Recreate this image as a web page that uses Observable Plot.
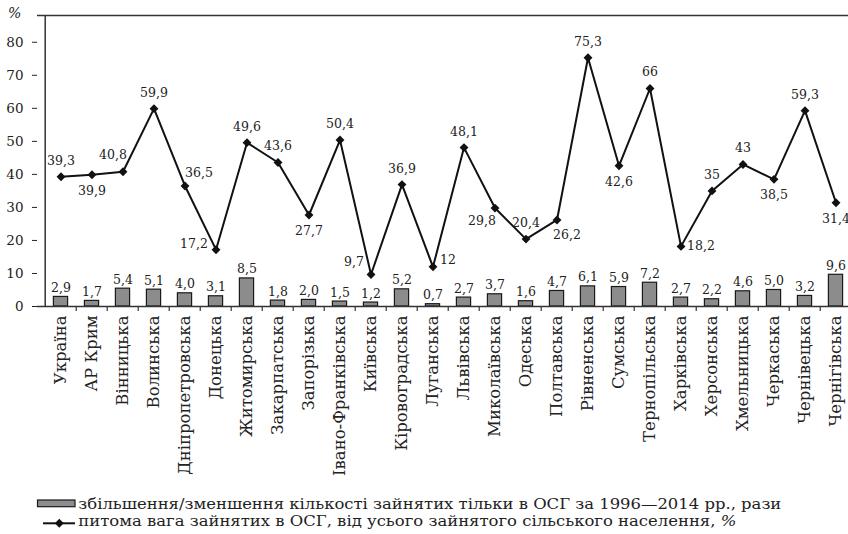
<!DOCTYPE html>
<html>
<head>
<meta charset="utf-8">
<script src="https://cdn.jsdelivr.net/npm/d3@7"></script>
<script src="https://cdn.jsdelivr.net/npm/@observablehq/plot@0.6"></script>
<style>
  html, body { margin: 0; padding: 0; background: #fff; overflow: hidden; width: 848px; height: 534px; }
  #wrap { position: relative; width: 848px; height: 534px; overflow: hidden; font-family: "DejaVu Serif", serif; color: #222; }
  #pct { position: absolute; left: 8px; top: 5px; font-size: 14px; font-style: italic; }
  #chart svg { display: block; max-width: none !important; }
  #legend { position: absolute; left: 0; top: 490px; }
</style>
</head>
<body>
<div id="wrap">
  <div id="chart"></div>
  <div id="pct">%</div>
  <div id="legend"></div>
</div>
<script>
const regions = ["Україна","АР Крим","Вінницька","Волинська","Дніпропетровська","Донецька","Житомирська","Закарпатська","Запорізька","Івано-Франківська","Київська","Кіровоградська","Луганська","Львівська","Миколаївська","Одеська","Полтавська","Рівненська","Сумська","Тернопільська","Харківська","Херсонська","Хмельницька","Черкаська","Чернівецька","Чернігівська"];
const shareValues = [39.3,39.9,40.8,59.9,36.5,17.2,49.6,43.6,27.7,50.4,9.7,36.9,12,48.1,29.8,20.4,26.2,75.3,42.6,66,18.2,35,43,38.5,59.3,31.4];
const growthValues = [2.9,1.7,5.4,5.1,4.0,3.1,8.5,1.8,2.0,1.5,1.2,5.2,0.7,2.7,3.7,1.6,4.7,6.1,5.9,7.2,2.7,2.2,4.6,5.0,3.2,9.6];
const yTicks = [0,10,20,30,40,50,60,70,80];
const legendBarLabel = "збільшення/зменшення кількості зайнятих тільки в ОСГ за 1996—2014 рр., рази";
const legendLineLabel = "питома вага зайнятих в ОСГ, від усього зайнятого сільського населення, ";
const legendLineUnit = "%";

// label placement keys for the line's value labels (layout, not data)
const labelPlacement = ["t","b","tl","t","tr","l","t","t","b","t","lt","t","r","t","bl","t","br","t","b","t","rr","t","t","b","t","b"];
const offsets = {t:[0,-16], b:[0,16], tl:[-10,-17], tr:[14,-13], l:[-22,-6], lt:[-17,-12], r:[15,-7], rr:[20,0], bl:[-13,13], br:[10,15]};

const FONT = "'DejaVu Serif', serif";
const W = 858, H = 490, ML = 37, MR = 0, MT = 15, MB = 184;
const yMax = 88.1;
const step = (W - ML - MR) / regions.length;
const rows = regions.map((region, i) => ({region, share: shareValues[i], growth: growthValues[i], place: labelPlacement[i]}));
const fmt = v => String(v).replace(".", ",");
const fmt1 = v => v.toFixed(1).replace(".", ",");

const shareLabels = Object.entries(offsets).map(([k, [dx, dy]]) =>
  Plot.text(rows.filter(d => d.place === k), {x: "region", y: "share", text: d => fmt(d.share), dx, dy, fontSize: 12.5, fill: "#222"})
);

const chart = Plot.plot({
  width: W, height: H, marginLeft: ML, marginRight: MR, marginTop: MT, marginBottom: MB,
  style: {fontFamily: FONT, fontSize: "13.5px", background: "transparent", color: "#222", overflow: "visible"},
  x: {domain: regions, padding: 0, axis: null},
  y: {domain: [0, yMax], ticks: yTicks, tickSize: 5, tickPadding: 9, label: null},
  marks: [
    Plot.barY(rows, {x: "region", y: "growth", fill: "#8c8c8c", stroke: "#1a1a1a", strokeWidth: 1.2, insetLeft: 8.4, insetRight: 8.4}),
    Plot.ruleY([0], {stroke: "#333", strokeWidth: 1.5}),
    Plot.ruleY([yMax], {stroke: "#333", strokeWidth: 1.5}),
    Plot.ruleX([regions[0]], {dx: -step / 2, y1: 0, y2: yMax, stroke: "#333", strokeWidth: 1.5}),
    Plot.ruleX(regions.slice(1), {dx: -step / 2, y1: 0, y2: -1.5, stroke: "#333", strokeWidth: 1.2}),
    Plot.text(rows, {x: "region", y: "growth", text: d => fmt1(d.growth), dy: -9, fontSize: 12.5, fill: "#222"}),
    Plot.lineY(rows, {x: "region", y: "share", stroke: "#111", strokeWidth: 2}),
    Plot.dot(rows, {x: "region", y: "share", symbol: "diamond2", r: 4, fill: "#111", stroke: "none"}),
    ...shareLabels,
    Plot.text(rows, {x: "region", y: 0, text: "region", rotate: -90, textAnchor: "end", dy: 9, fontSize: 16.5, fill: "#222"})
  ]
});
document.getElementById("chart").appendChild(chart);

// legend
const lg = d3.select("#legend").append("svg").attr("width", 848).attr("height", 44)
  .style("font-family", FONT);
lg.append("rect").attr("x", 37.5).attr("y", 10).attr("width", 37.5).attr("height", 6.7)
  .attr("fill", "#8c8c8c").attr("stroke", "#1a1a1a").attr("stroke-width", 1.2);
lg.append("line").attr("x1", 43).attr("x2", 75).attr("y1", 33.3).attr("y2", 33.3).attr("stroke", "#111").attr("stroke-width", 2);
lg.append("path").attr("d", d3.symbol(d3.symbolDiamond2, 50)()).attr("transform", "translate(59.3,33.3)").attr("fill", "#111");
lg.append("text").attr("x", 78.3).attr("y", 19).attr("font-size", 15).attr("fill", "#222")
  .attr("textLength", 703).attr("lengthAdjust", "spacingAndGlyphs").text(legendBarLabel);
const t2 = lg.append("text").attr("x", 78.3).attr("y", 36).attr("font-size", 15).attr("fill", "#222")
  .attr("textLength", 658).attr("lengthAdjust", "spacingAndGlyphs");
t2.append("tspan").text(legendLineLabel);
t2.append("tspan").attr("font-style", "italic").text(legendLineUnit);
</script>
</body>
</html>
